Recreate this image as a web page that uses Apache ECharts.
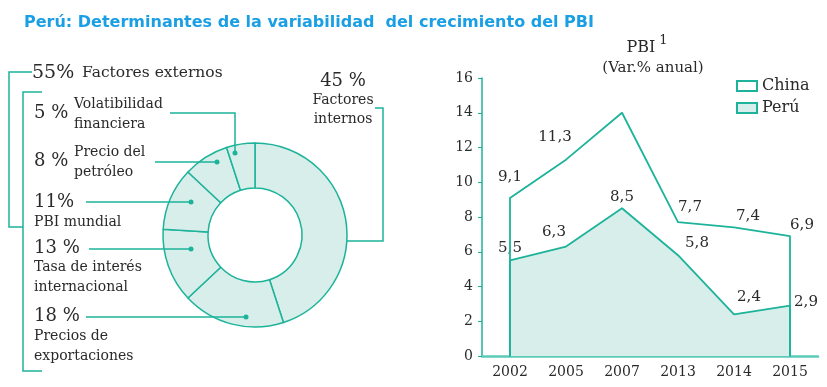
<!DOCTYPE html>
<html><head><meta charset="utf-8">
<script src="https://cdn.jsdelivr.net/npm/echarts@6/dist/echarts.min.js"></script>
<style>html,body{margin:0;padding:0;background:#fff}#c{width:827px;height:387px}</style>
</head><body><div id="c"></div>
<script>
// ---- data ----
var years = ['2002', '2005', '2007', '2013', '2014', '2015'];
var china = [9.1, 11.3, 14.0, 7.7, 7.4, 6.9];
var peru = [5.5, 6.3, 8.5, 5.8, 2.4, 2.9];
var chinaLabelShown = [true, true, false, true, true, true];
var factorNames = ['Factores internos', 'Precios de exportaciones', 'Tasa de interés internacional', 'PBI mundial', 'Precio del petróleo', 'Volatibilidad financiera'];
var factorShares = [45, 18, 13, 11, 8, 5];
var externalShare = 55;
var yTicks = {min: 0, max: 16, interval: 2};

// ---- styles ----
var TEAL = '#1db39a';
var FILL = '#d8eeea';
var TXT = '#2a2a2a';
var SERIF = 'DejaVu Serif';
var chinaOffsets = [[0, -21], [-11, -23], [0, 0], [12, -15], [14, -11], [12, -11]];
var peruOffsets = [[0, -12], [-12, -14], [0, -11], [19, -12], [15, -17], [16, -4]];

function fmt(v) { return String(v).replace('.', ','); }

function buildSeriesData(vals, offsets, shown) {
  var out = [{value: [0, 0], label: {show: false}}];
  vals.forEach(function (v, i) {
    out.push({
      value: [i, v],
      label: {show: shown ? shown[i] : true, position: 'inside', offset: offsets[i]}
    });
  });
  out.push({value: [vals.length - 1, 0], label: {show: false}});
  return out;
}

var chart = echarts.init(document.getElementById('c'), null, {renderer: 'canvas'});

function txt(x, y, s, size, align) {
  return {type: 'text', x: x, y: y, style: {text: s, font: size + 'px "' + SERIF + '"', fill: TXT, textAlign: align || 'left', textVerticalAlign: 'middle'}};
}
function pline(points) {
  return {type: 'polyline', shape: {points: points}, style: {stroke: TEAL, lineWidth: 1.5, fill: null}, z: 10};
}
function dot(x, y) {
  return {type: 'circle', shape: {cx: x, cy: y, r: 2.5}, style: {fill: TEAL}, z: 11};
}

var NUM = 18, LAB = 14;
var graphics = [
  // brackets
  pline([[32, 72], [9, 72], [9, 227], [23, 227]]),
  pline([[42, 92], [23, 92], [23, 371], [42, 371]]),
  txt(32, 73, externalShare + '%', 19),
  txt(82, 73, 'Factores externos', 15.5),
  // 5%
  txt(34, 113, factorShares[5] + ' %', NUM),
  txt(74, 104, 'Volatibilidad', LAB),
  txt(74, 124, 'financiera', LAB),
  pline([[170, 113], [235, 113], [235, 151]]), dot(235, 153),
  // 8%
  txt(34, 161, factorShares[4] + ' %', NUM),
  txt(74, 152, 'Precio del', LAB),
  txt(74, 172, 'petróleo', LAB),
  pline([[155, 162], [217, 162]]), dot(217, 162),
  // 11%
  txt(34, 202, factorShares[3] + '%', NUM),
  txt(34, 222, 'PBI mundial', LAB),
  pline([[86, 202], [191, 202]]), dot(191, 202),
  // 13%
  txt(34, 248, factorShares[2] + ' %', NUM),
  txt(34, 267, 'Tasa de interés', LAB),
  txt(34, 287, 'internacional', LAB),
  pline([[89, 249], [191, 249]]), dot(191, 249),
  // 18%
  txt(34, 316, factorShares[1] + ' %', NUM),
  txt(34, 336, 'Precios de', LAB),
  txt(34, 356, 'exportaciones', LAB),
  pline([[86, 317], [246, 317]]), dot(246, 317),
  // 45%
  txt(343, 81, factorShares[0] + ' %', NUM, 'center'),
  txt(343, 100, 'Factores', LAB, 'center'),
  txt(343, 119, 'internos', LAB, 'center'),
  pline([[375, 108], [383, 108], [383, 241], [347, 241]]),
  // right chart title
  {type: 'text', x: 647, y: 45, style: {text: '{a|PBI}{b| 1}', rich: {a: {fontFamily: SERIF, fontSize: 16, fill: TXT, verticalAlign: 'bottom'}, b: {fontFamily: SERIF, fontSize: 13, fill: TXT, padding: [0, 0, 8, 0]}}, textAlign: 'center', textVerticalAlign: 'middle'}},
  txt(653, 68, '(Var.% anual)', 15, 'center')
];

var option = {
  animation: false,
  title: {
    text: 'Perú: Determinantes de la variabilidad  del crecimiento del PBI',
    left: 19, top: 10,
    textStyle: {fontFamily: 'DejaVu Sans', fontWeight: 'bold', fontSize: 16, color: '#1a9fe5'}
  },
  legend: {
    left: 731, top: 73, orient: 'vertical', itemWidth: 20, itemHeight: 10, itemGap: 6,
    textStyle: {fontFamily: SERIF, fontSize: 16, color: TXT, lineHeight: 16},
    data: [
      {name: 'China', icon: 'rect', itemStyle: {color: '#ffffff', borderColor: TEAL, borderWidth: 2}},
      {name: 'Perú', icon: 'rect', itemStyle: {color: FILL, borderColor: TEAL, borderWidth: 2}}
    ]
  },
  grid: {left: 482, right: 9, top: 78, bottom: 31, containLabel: false},
  xAxis: {
    type: 'category', data: years, boundaryGap: true,
    axisLine: {lineStyle: {color: '#5ccbb8', width: 2.5}},
    axisTick: {show: false},
    axisLabel: {color: TXT, fontFamily: SERIF, fontSize: 14, margin: 9}
  },
  yAxis: {
    type: 'value', min: yTicks.min, max: yTicks.max, interval: yTicks.interval,
    axisLine: {show: true, lineStyle: {color: TEAL, width: 1.5}},
    axisTick: {show: true, length: 4, lineStyle: {color: TEAL}},
    splitLine: {show: false},
    axisLabel: {color: TXT, fontFamily: SERIF, fontSize: 14, margin: 9}
  },
  series: [
    {
      type: 'pie', center: [255, 235], radius: [47, 92], startAngle: 90, clockwise: true,
      label: {show: false}, labelLine: {show: false}, silent: true,
      itemStyle: {color: FILL, borderColor: TEAL, borderWidth: 1.5},
      data: factorNames.map(function (n, i) { return {name: n, value: factorShares[i]}; })
    },
    {
      name: 'Perú', type: 'line', z: 2,
      data: buildSeriesData(peru, peruOffsets),
      symbol: 'circle', symbolSize: 1, itemStyle: {color: TEAL},
      lineStyle: {color: TEAL, width: 1.8},
      areaStyle: {color: FILL, opacity: 1},
      label: {color: TXT, fontFamily: SERIF, fontSize: 15, formatter: function (p) { return fmt(p.value[1]); }}
    },
    {
      name: 'China', type: 'line', z: 3,
      data: buildSeriesData(china, chinaOffsets, chinaLabelShown),
      symbol: 'circle', symbolSize: 1, itemStyle: {color: TEAL},
      lineStyle: {color: TEAL, width: 1.8},
      label: {color: TXT, fontFamily: SERIF, fontSize: 15, formatter: function (p) { return fmt(p.value[1]); }}
    }
  ],
  graphic: graphics
};
chart.setOption(option);
</script>
</body></html>
